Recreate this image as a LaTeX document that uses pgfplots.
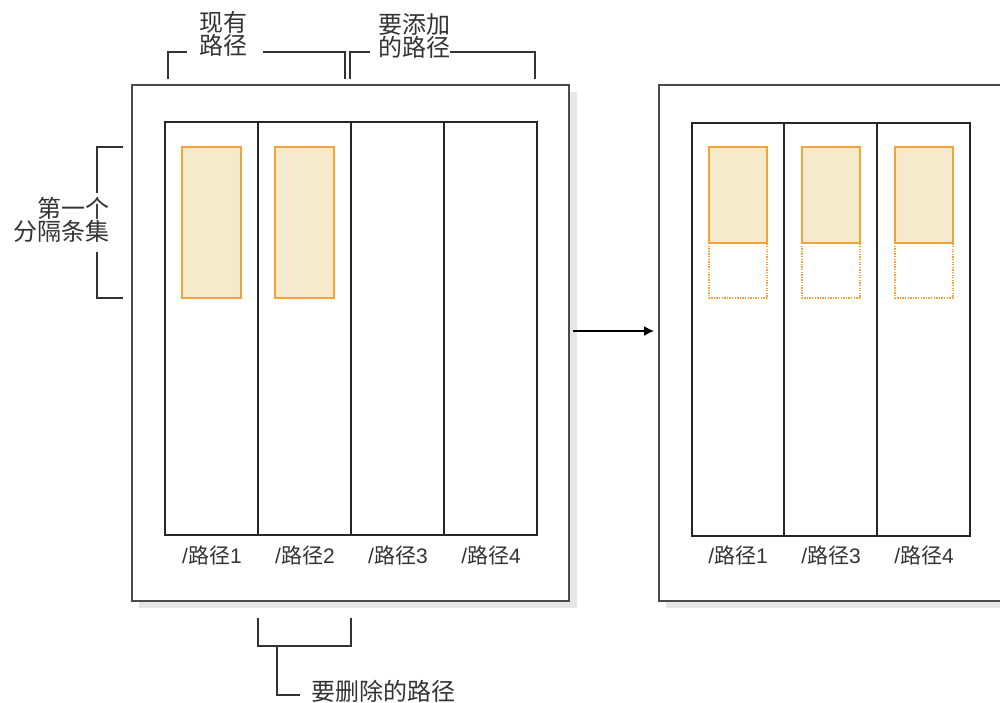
\documentclass[border=0pt]{standalone}
\usepackage{pgfplots}
\pgfplotsset{compat=1.18}
\usetikzlibrary{arrows.meta}
\usepackage{fontspec}
\setmainfont{Liberation Sans}
\newfontfamily\cjk{Noto Sans CJK SC}
\definecolor{frame}{HTML}{4A4A4A}
\definecolor{shade}{HTML}{E6E6E6}
\definecolor{stripe}{HTML}{F2A33A}
\definecolor{stripefill}{HTML}{F5EACB}
\tikzset{
  lab/.style={font=\fontsize{21}{21}\selectfont, text=black!80},
  cj/.style={font=\cjk\fontsize{24}{22.5}\selectfont, align=center, text=black!80}}

\begin{document}
\begin{tikzpicture}
\begin{axis}[width=1000pt, height=702pt, scale only axis, xmin=0, xmax=1000, ymin=0, ymax=702, y dir=reverse, hide axis, clip=true]

% page extent
\addplot[draw=none] coordinates {(0,0) (1000,702)};

% drop shadows
\addplot[draw=none, fill=shade] coordinates {(139,92) (577,92) (577,608) (139,608)} -- cycle;
\addplot[draw=none, fill=shade] coordinates {(666,92) (1010,92) (1010,608) (666,608)} -- cycle;

% outer frames
\addplot[draw=frame, fill=white, line width=1.8pt] coordinates {(132,85) (569,85) (569,601) (132,601)} -- cycle;
\addplot[draw=frame, fill=white, line width=1.8pt] coordinates {(659,85) (1010,85) (1010,601) (659,601)} -- cycle;

% left inner box, 4 paths
\addplot[draw=black!85, line width=1.3pt] coordinates {(165,122) (537,122) (537,535) (165,535)} -- cycle;
\addplot[draw=black!85, line width=1.3pt] coordinates {(258,122) (258,535)};
\addplot[draw=black!85, line width=1.3pt] coordinates {(351,122) (351,535)};
\addplot[draw=black!85, line width=1.3pt] coordinates {(444,122) (444,535)};

% stripes, left
\addplot[draw=stripe, fill=stripefill, line width=1.2pt] coordinates {(182,147) (241,147) (241,298) (182,298)} -- cycle;
\addplot[draw=stripe, fill=stripefill, line width=1.2pt] coordinates {(275,147) (334,147) (334,298) (275,298)} -- cycle;

% right inner box, 3 paths
\addplot[draw=black!85, line width=1.3pt] coordinates {(692,123) (970,123) (970,536) (692,536)} -- cycle;
\addplot[draw=black!85, line width=1.3pt] coordinates {(784,123) (784,536)};
\addplot[draw=black!85, line width=1.3pt] coordinates {(877,123) (877,536)};

% stripes, right (solid part + dotted remainder)
\addplot[draw=stripe, fill=stripefill, line width=1.2pt] coordinates {(709,147) (767,147) (767,243) (709,243)} -- cycle;
\addplot[draw=stripe, fill=stripefill, line width=1.2pt] coordinates {(802,147) (860,147) (860,243) (802,243)} -- cycle;
\addplot[draw=stripe, fill=stripefill, line width=1.2pt] coordinates {(895,147) (953,147) (953,243) (895,243)} -- cycle;
\addplot[draw=stripe, line width=1.3pt, dash pattern=on 1.3pt off 1.3pt] coordinates {(709,243) (709,298) (767,298) (767,243)};
\addplot[draw=stripe, line width=1.3pt, dash pattern=on 1.3pt off 1.3pt] coordinates {(802,243) (802,298) (860,298) (860,243)};
\addplot[draw=stripe, line width=1.3pt, dash pattern=on 1.3pt off 1.3pt] coordinates {(895,243) (895,298) (953,298) (953,243)};

% arrow
\addplot[black, line width=1.3pt, -{Latex[length=10pt, width=10pt]}] coordinates {(573,331) (654,331)};

% brackets
\addplot[draw=black!80, line width=1.2pt] coordinates {(168,79) (168,52) (187,52)};
\addplot[draw=black!80, line width=1.2pt] coordinates {(263,52) (345,52) (345,79)};
\addplot[draw=black!80, line width=1.2pt] coordinates {(350,79) (350,52) (370,52)};
\addplot[draw=black!80, line width=1.2pt] coordinates {(450,52) (535,52) (535,79)};
\addplot[draw=black!80, line width=1.2pt] coordinates {(123,147) (97,147) (97,193)};
\addplot[draw=black!80, line width=1.2pt] coordinates {(97,252) (97,298) (123,298)};
\addplot[draw=black!80, line width=1.2pt] coordinates {(258,618) (258,646) (351,646) (351,618)};
\addplot[draw=black!80, line width=1.2pt] coordinates {(277,646) (277,695) (300,695)};

% labels
\node[cj] at (axis cs:223,34) {现有\\路径};
\node[cj] at (axis cs:414,36) {要添加\\的路径};
\node[cj, align=right, anchor=east] at (axis cs:113,220) {第一个\\分隔条集};
\node[cj, anchor=west] at (axis cs:308,691) {要删除的路径};

\node[lab] at (axis cs:212,555) {/{\cjk 路径}1};
\node[lab] at (axis cs:305,555) {/{\cjk 路径}2};
\node[lab] at (axis cs:398,555) {/{\cjk 路径}3};
\node[lab] at (axis cs:491,555) {/{\cjk 路径}4};
\node[lab] at (axis cs:738,555) {/{\cjk 路径}1};
\node[lab] at (axis cs:831,555) {/{\cjk 路径}3};
\node[lab] at (axis cs:924,555) {/{\cjk 路径}4};
\end{axis}
\end{tikzpicture}
\end{document}
